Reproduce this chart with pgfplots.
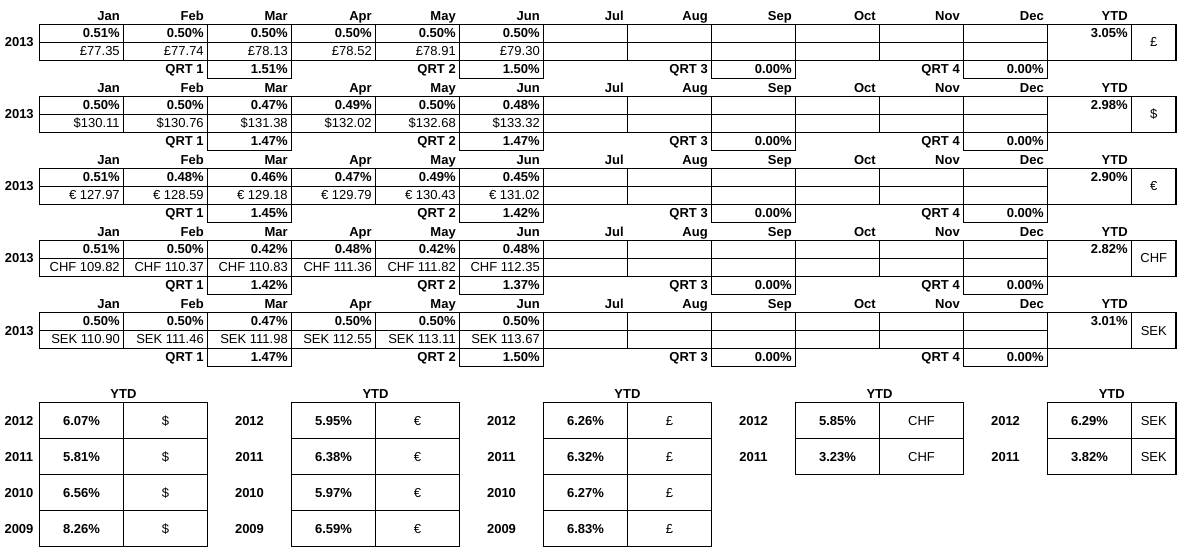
\documentclass[border=0pt]{standalone}
\usepackage{fontspec}
\setmainfont{Liberation Sans}
\usepackage{pgfplots}
\pgfplotsset{compat=1.18}
\usepackage{pgfplotstable}

\pgfkeys{/pgf/number format/two/.style={fixed,fixed zerofill,precision=2,assume math mode=true}}

% monthly change and price, one table per currency
\pgfplotstableread{
m pct price
0 0.51 77.35
1 0.50 77.74
2 0.50 78.13
3 0.50 78.52
4 0.50 78.91
5 0.50 79.30
}\gbp
\pgfplotstableread{
m pct price
0 0.50 130.11
1 0.50 130.76
2 0.47 131.38
3 0.49 132.02
4 0.50 132.68
5 0.48 133.32
}\usd
\pgfplotstableread{
m pct price
0 0.51 127.97
1 0.48 128.59
2 0.46 129.18
3 0.47 129.79
4 0.49 130.43
5 0.45 131.02
}\eur
\pgfplotstableread{
m pct price
0 0.51 109.82
1 0.50 110.37
2 0.42 110.83
3 0.48 111.36
4 0.42 111.82
5 0.48 112.35
}\chf
\pgfplotstableread{
m pct price
0 0.50 110.90
1 0.50 111.46
2 0.47 111.98
3 0.50 112.55
4 0.50 113.11
5 0.50 113.67
}\sek

\pgfplotstableread{
q gbp usd eur chf sek
0 1.51 1.47 1.45 1.42 1.47
1 1.50 1.47 1.42 1.37 1.50
2 0.00 0.00 0.00 0.00 0.00
3 0.00 0.00 0.00 0.00 0.00
}\quarters

\pgfplotstableread{
cur ytd
gbp 3.05
usd 2.98
eur 2.90
chf 2.82
sek 3.01
}\ytdtab

% previous years
\pgfplotstableread{
year val
2012 6.07
2011 5.81
2010 6.56
2009 8.26
}\usdytd
\pgfplotstableread{
year val
2012 5.95
2011 6.38
2010 5.97
2009 6.59
}\eurytd
\pgfplotstableread{
year val
2012 6.26
2011 6.32
2010 6.27
2009 6.83
}\gbpytd
\pgfplotstableread{
year val
2012 5.85
2011 3.23
}\chfytd
\pgfplotstableread{
year val
2012 6.29
2011 3.82
}\sekytd

\pgfplotsset{
  cell/.style={draw=none,mark=none,nodes near coords,
    nodes near coords style={anchor=base east,inner sep=0pt}},
  cellc/.style={draw=none,mark=none,nodes near coords,
    nodes near coords style={anchor=base,inner sep=0pt}},
  pct/.style={cell,point meta=\thisrow{#1},
    nodes near coords={\pgfmathprintnumber[two]{\pgfplotspointmeta}\%},
    nodes near coords style={font=\bfseries}},
  price/.style={cell,point meta=\thisrow{price},
    nodes near coords={#1\pgfmathprintnumber[two]{\pgfplotspointmeta}}},
}

% #1 top edge, #2 table, #3 price prefix, #4 symbol, #5 quarter column
\newcommand{\topblock}[5]{%
  \draw[tbl] (axis cs:39.5,#1) rectangle (axis cs:1176,#1+36);
  \draw[tbl] (axis cs:39.5,#1+18) -- (axis cs:1047.5,#1+18);
  \draw[tbl] \foreach \xx in {123.5,207.5,...,1131.5} {(axis cs:\xx,#1) -- (axis cs:\xx,#1+36)};
  \draw[tbl] \foreach \xx in {207.5,459.5,711.5,963.5} {(axis cs:\xx,#1+36) rectangle (axis cs:\xx+84,#1+54)};
  \path \foreach \n [count=\i from 0] in {Jan,Feb,Mar,Apr,May,Jun,Jul,Aug,Sep,Oct,Nov,Dec}
    {(axis cs:{120+84*\i},#1-4) node[lbl,anchor=base east] {\n}};
  \node[lbl,anchor=base east] at (axis cs:1128,#1-4) {YTD};
  \node[lbl,anchor=base east] at (axis cs:34,#1+22.5) {2013};
  \node[inner sep=0pt,anchor=base] at (axis cs:1153.75,#1+22.5) {#4};
  \path \foreach \q in {1,...,4} {(axis cs:{204+252*(\q-1)},#1+49.5) node[lbl,anchor=base east] {QRT \q}};
  \addplot[pct=pct] table[x expr=120+84*\thisrow{m},y expr=#1+13.5]{#2};
  \addplot[price=#3] table[x expr=120+84*\thisrow{m},y expr=#1+31.5]{#2};
  \addplot[pct=#5] table[x expr=288+252*\thisrow{q},y expr=#1+49.5]{\quarters};
}

% #1 left, #2 right, #3 year label x, #4 symbol, #5 table, #6 rows
\newcommand{\bottomtable}[6]{%
  \node[lbl,anchor=base] at (axis cs:{(#1+#2)/2},398) {YTD};
  \draw[tbl] \foreach \r in {1,...,#6} {(axis cs:#1,{402.5+36*(\r-1)}) rectangle (axis cs:#2,{402.5+36*\r})};
  \draw[tbl] (axis cs:#1+84,402.5) -- (axis cs:#1+84,{402.5+36*#6});
  \addplot[cellc,point meta=explicit symbolic,nodes near coords={\pgfplotspointmeta},
    nodes near coords style={font=\bfseries}]
    table[x expr=#3,y expr=425+36*\coordindex,meta=year]{#5};
  \addplot[cellc,point meta=\thisrow{val},
    nodes near coords={\pgfmathprintnumber[two]{\pgfplotspointmeta}\%},
    nodes near coords style={font=\bfseries}]
    table[x expr=#1+42,y expr=425.8+36*\coordindex]{#5};
  \addplot[cellc,nodes near coords={#4}]
    table[x expr={(#1+84+#2)/2},y expr=425+36*\coordindex]{#5};
}

\begin{document}
\fontsize{9.75}{11.7}\selectfont
\begin{tikzpicture}[tbl/.style={line width=0.8pt},lbl/.style={inner sep=0pt,font=\bfseries}]
\begin{axis}[
  width=891pt,height=419.25pt,scale only axis,
  xmin=0,xmax=1188,ymin=0,ymax=559,y dir=reverse,
  hide axis,clip=false
]
% keep the page the size of the whole axis
\path (axis cs:0,0) rectangle (axis cs:1188,559);
\topblock{24.5}{\gbp}{£}{£}{gbp}
\topblock{96.5}{\usd}{\$}{\$}{usd}
\topblock{168.5}{\eur}{€~}{€}{eur}
\topblock{240.5}{\chf}{CHF~}{CHF}{chf}
\topblock{312.5}{\sek}{SEK~}{SEK}{sek}
\addplot[pct=ytd] table[x expr=1128,y expr=38+72*\coordindex]{\ytdtab};

\bottomtable{39.5}{207.5}{19}{\$}{\usdytd}{4}
\bottomtable{291.5}{459.5}{249.5}{€}{\eurytd}{4}
\bottomtable{543.5}{711.5}{501.5}{£}{\gbpytd}{4}
\bottomtable{795.5}{963.5}{753.5}{CHF}{\chfytd}{2}
\bottomtable{1047.5}{1176}{1005.5}{SEK}{\sekytd}{2}
\end{axis}
\end{tikzpicture}
\end{document}
